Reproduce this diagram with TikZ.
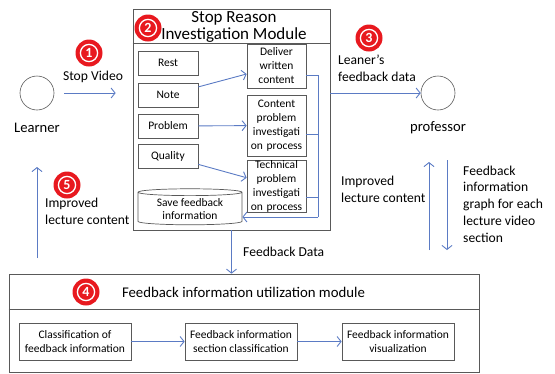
\documentclass[tikz,border=0pt]{standalone}
\usepackage{fontspec}
\setmainfont{Carlito}
\usetikzlibrary{shapes.geometric,arrows.meta}
\definecolor{arrowblue}{HTML}{5B7BC4}
\definecolor{boxgray}{HTML}{595959}
\definecolor{badgered}{HTML}{E8191F}
\tikzset{
  box/.style={draw=boxgray,line width=0.7pt,align=center,inner sep=1pt,font=\fontsize{11.5}{14}\selectfont},
  flow/.style={draw=arrowblue,line width=0.9pt,-{Straight Barb[length=4pt,width=10pt]}},
  rail/.style={draw=arrowblue,line width=0.9pt},
  actor/.style={circle,draw=boxgray,line width=0.6pt,minimum size=34pt},
  lbl/.style={font=\fontsize{13.6}{16.8}\selectfont,align=left,inner sep=0pt},
  badge/.style={circle,fill=badgered,text=white,minimum size=27pt,inner sep=0pt,
    font=\fontsize{14}{14}\selectfont\bfseries,
    path picture={\draw[white,line width=1.3pt] (path picture bounding box.center) circle (8.6pt);}}
}
\begin{document}
\begin{tikzpicture}[x=1pt,y=-1pt,node distance=35pt]
  \useasboundingbox (0,0) rectangle (555,373);
  % learner and professor
  \node(learner)[actor] at (37,93){};
  \node(learnerlbl)[below of=learner,font=\fontsize{14.6}{17}\selectfont]{Learner};
  \node(prof)[actor] at (438,93){};
  \node(proflbl)[below of=prof,font=\fontsize{14.6}{17}\selectfont]{professor};
  % stop reason investigation module
  \node(sri)[draw=boxgray,line width=0.7pt,minimum width=197pt,minimum height=221pt] at (231.5,119.5){};
  \node(sritl)[align=center,font=\fontsize{17}{17}\selectfont] at (234,27){Stop Reason\\Investigation Module};
  \draw[boxgray,line width=0.7pt] ([yshift=-35pt]sri.north west) -- ([yshift=-35pt]sri.north east);
  \node(rest)[box,minimum width=60pt,minimum height=24pt] at (168,63){Rest};
  \node(note)[box,minimum width=60pt,minimum height=24pt] at (168,95){Note};
  \node(prob)[box,minimum width=60pt,minimum height=24pt] at (168,126){Problem};
  \node(qual)[box,minimum width=60pt,minimum height=24pt] at (168,156){Quality};
  \node(del)[box,text width=57pt,minimum height=44pt] at (276.5,66){Deliver\\written\\content};
  \node(cnt)[box,text width=57pt,minimum height=61pt] at (276.5,125.5){Content\\problem\\investigati\\on process};
  \node(tec)[box,text width=57pt,inner ysep=0pt,minimum height=52pt] at (276.5,186){Technical\\problem\\investigati\\on process};
  \node(cyl)[cylinder,shape border rotate=90,draw=boxgray,line width=0.7pt,aspect=0.1,
    minimum width=104pt,minimum height=36pt,inner sep=1pt,align=center,
    font=\fontsize{11.5}{13}\selectfont] at (190,209){Save feedback\\information};
  \path[flow] (note) edge (del)
              (prob) edge (cnt)
              (qual) edge (tec);
  \coordinate(railend) at (318,217);
  \draw[rail] ([yshift=-9pt]del.east) -| (railend);
  \draw[rail] ([yshift=-9pt]cnt.east) -- ([yshift=-9pt]cnt.east -| railend);
  \draw[rail] ([yshift=-11pt]tec.east) -- ([yshift=-11pt]tec.east -| railend);
  \draw[flow] (railend) -- (railend -| cyl.east);
  % feedback information utilization module
  \node(fim)[draw=boxgray,line width=0.7pt,minimum width=470pt,minimum height=98pt] at (244,323){};
  \draw[boxgray,line width=0.7pt] ([yshift=-36pt]fim.north west) -- ([yshift=-36pt]fim.north east);
  \node(fimtl)[font=\fontsize{14.8}{17}\selectfont] at (243.5,292){Feedback information utilization module};
  \node(cls)[box,minimum width=112pt,minimum height=37pt] at (75,341.5){Classification of\\feedback information};
  \node(sec)[box,minimum width=112pt,minimum height=37pt] at (241,341.5){Feedback information\\section classification};
  \node(vis)[box,minimum width=112pt,minimum height=37pt] at (398,341.5){Feedback information\\visualization};
  \path[flow] (cls) edge (sec)
              (sec) edge (vis);
  % flows between actors and modules
  \draw[flow,shorten <=10pt,shorten >=17pt] (learner) -- (learner -| sri.west);
  \node(stopv)[lbl] at (93,77){Stop Video};
  \draw[flow] (sri.east |- prof) -- (prof);
  \node(fbdata)[lbl,anchor=west] at (338,68){Leaner’s\\feedback data};
  \draw[flow] (sri.south) -- (sri.south |- fim.north);
  \node(fdl)[lbl,anchor=west] at (243,252){Feedback Data};
  \coordinate(retbot) at (37,258);
  \coordinate(rettop) at (37,167);
  \draw[flow] (retbot) -- (rettop);
  \node(impr1)[lbl,anchor=west] at (45,211){Improved\\lecture content};
  \coordinate(upbot) at (429,250);
  \coordinate(uptop) at (429,162);
  \draw[flow] (upbot) -- (uptop);
  \node(impr2)[lbl,anchor=west] at (341,189){Improved\\lecture content};
  \coordinate(dntop) at (447,160);
  \coordinate(dnbot) at (447,250);
  \draw[flow] (dntop) -- (dnbot);
  \node(graph)[lbl,anchor=west] at (463,204){Feedback\\information\\graph for each\\lecture video\\section};
  % step numbers
  \node(b1)[badge] at (89,53){1};
  \node(b2)[badge] at (148,28){2};
  \node(b3)[badge] at (369,38){3};
  \node(b4)[badge] at (86,292){4};
  \node(b5)[badge] at (67,185){5};
\end{tikzpicture}
\end{document}
